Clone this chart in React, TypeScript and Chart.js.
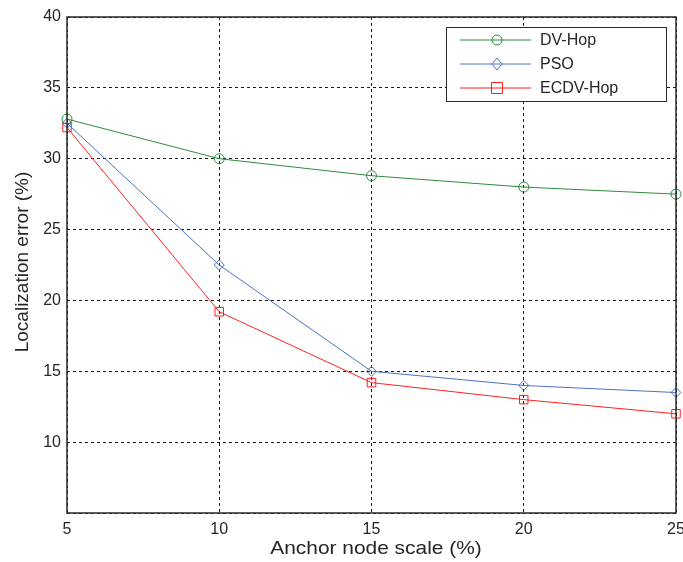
import React, { useEffect, useRef } from "react";
import { Chart, registerables } from "chart.js";

Chart.register(...registerables);

const xValues = [5, 10, 15, 20, 25];
const dvHop = [32.8, 30.0, 28.8, 28.0, 27.5];
const pso = [32.5, 22.5, 15.0, 14.0, 13.5];
const ecdvHop = [32.2, 19.2, 14.2, 13.0, 12.0];
const seriesNames = ["DV-Hop", "PSO", "ECDV-Hop"];
const xTitle = "Anchor node scale (%)";
const yTitle = "Localization error (%)";

const colors = ["#2f8a3c", "#4a72c4", "#ff2020"];
const styles = ["circle", "rectRot", "rect"] as const;
const FONT = "'Liberation Sans', Arial, sans-serif";

const toPoints = (ys: number[]) => ys.map((y, i) => ({ x: xValues[i], y }));

function drawMarker(ctx: any, style: string, x: number, y: number) {
  ctx.beginPath();
  if (style === "circle") {
    ctx.arc(x, y, 5, 0, Math.PI * 2);
  } else if (style === "rectRot") {
    ctx.moveTo(x, y - 6);
    ctx.lineTo(x + 5, y);
    ctx.lineTo(x, y + 6);
    ctx.lineTo(x - 5, y);
    ctx.closePath();
  } else {
    ctx.rect(x - 5.5, y - 5.5, 11, 11);
  }
  ctx.stroke();
}

export default function App() {
  const ref = useRef<HTMLCanvasElement | null>(null);
  useEffect(() => {
    if (!ref.current) return;
    const all = [dvHop, pso, ecdvHop];
    const overlay = {
      id: "overlay",
      afterDraw(chart: any) {
        const ctx = chart.ctx;
        const a = chart.chartArea;
        ctx.save();
        ctx.strokeStyle = "#2a2a2a";
        ctx.lineWidth = 1.5;
        ctx.setLineDash([]);
        ctx.strokeRect(a.left, a.top, a.right - a.left, a.bottom - a.top);
        ctx.fillStyle = "#262626";
        ctx.font = `19px ${FONT}`;
        ctx.textAlign = "center";
        ctx.textBaseline = "middle";
        ctx.save();
        ctx.translate(376, 549);
        ctx.scale(1.1, 1);
        ctx.fillText(xTitle, 0, 0);
        ctx.restore();
        ctx.save();
        ctx.translate(23, 262);
        ctx.rotate(-Math.PI / 2);
        ctx.fillText(yTitle, 0, 0);
        ctx.restore();
        const lx = 446, ly = 27, lw = 220, lh = 74;
        ctx.fillStyle = "#ffffff";
        ctx.fillRect(lx, ly, lw, lh);
        ctx.strokeStyle = "#2a2a2a";
        ctx.lineWidth = 1;
        ctx.strokeRect(lx + 0.5, ly + 0.5, lw, lh);
        const rows = [40, 64, 88];
        seriesNames.forEach((name, i) => {
          const y = rows[i];
          ctx.strokeStyle = colors[i];
          ctx.lineWidth = 1;
          ctx.beginPath();
          ctx.moveTo(460, y);
          ctx.lineTo(531, y);
          ctx.stroke();
          drawMarker(ctx, styles[i], 497, y);
          ctx.fillStyle = "#262626";
          ctx.font = `16px ${FONT}`;
          ctx.textAlign = "left";
          ctx.textBaseline = "middle";
          ctx.fillText(name, 540, y + 1);
        });
        ctx.restore();
      },
    };
    const chart = new Chart(ref.current, {
      type: "line",
      data: {
        datasets: all.map((d, i) => ({
          label: seriesNames[i],
          data: toPoints(d),
          borderColor: colors[i],
          backgroundColor: "rgba(0,0,0,0)",
          borderWidth: 1,
          pointStyle: styles[i],
          pointRadius: i === 2 ? 6 : 5,
          pointBorderWidth: 1,
          pointBackgroundColor: "rgba(0,0,0,0)",
          pointBorderColor: colors[i],
          tension: 0,
          clip: false as any,
        })),
      },
      options: {
        responsive: false,
        animation: false,
        layout: { padding: { top: 17, right: 5, left: 0, bottom: 0 } },
        plugins: { legend: { display: false }, tooltip: { enabled: false } },
        scales: {
          x: {
            type: "linear",
            min: 5,
            max: 25,
            ticks: {
              stepSize: 5,
              padding: 7,
              color: "#262626",
              font: { size: 16, family: FONT },
            },
            grid: { color: "#1a1a1a", lineWidth: 1, drawTicks: false, tickLength: 0 },
            border: { display: false, dash: [3, 3] },
            afterFit: (s: any) => {
              s.height = 49;
              s.paddingLeft = 0;
              s.paddingRight = 0;
            },
          },
          y: {
            min: 5,
            max: 40,
            ticks: {
              stepSize: 5,
              padding: 6,
              color: "#262626",
              font: { size: 16, family: FONT },
              callback: (v: any) => (v === 5 ? "" : String(v)),
            },
            grid: { color: "#1a1a1a", lineWidth: 1, drawTicks: false, tickLength: 0 },
            border: { display: false, dash: [3, 3] },
            afterFit: (s: any) => {
              s.width = 67;
              s.paddingTop = 0;
              s.paddingBottom = 0;
            },
          },
        },
      },
      plugins: [overlay],
    });
    return () => chart.destroy();
  }, []);
  return (
    <div style={{ position: "fixed", left: 0, top: 0, width: 683, height: 562, background: "#fff" }}>
      <canvas ref={ref} width={683} height={562} style={{ display: "block" }} />
    </div>
  );
}
